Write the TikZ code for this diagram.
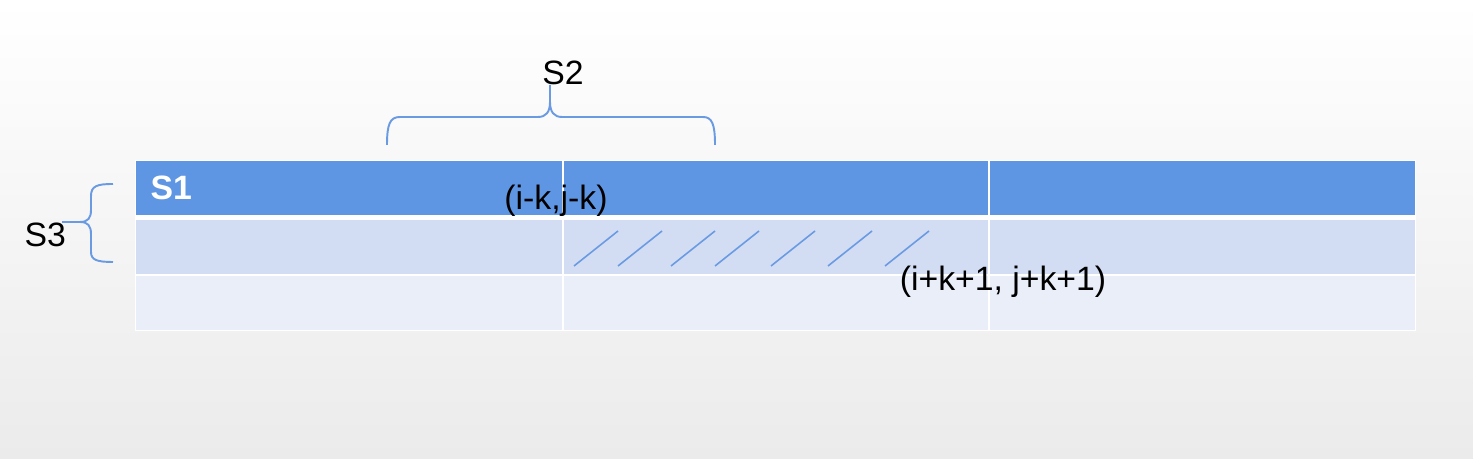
\documentclass[tikz,border=0pt]{standalone}
\usepackage{fontspec}
\setmainfont{Liberation Sans}
\definecolor{headblue}{HTML}{5F96E4}
\definecolor{rowblue}{HTML}{D2DDF3}
\definecolor{paleblue}{HTML}{E9EEF8}
\definecolor{braceblue}{HTML}{6A9AE2}
\definecolor{bggray}{HTML}{EBEBEB}
\begin{document}
\begin{tikzpicture}[x=0.01cm,y=-0.01cm,
  every node/.style={inner sep=0pt,font=\fontsize{9.6}{11.5}\selectfont},
  brace/.style={draw=braceblue,line width=0.55pt},
  hatch/.style={draw=braceblue,line width=0.45pt}]

\useasboundingbox (0,0) rectangle (1473,459);
\shade[top color=white,bottom color=bggray] (0,0) rectangle (1473,459);

% table
\fill[white] (135,160) rectangle (1416,331);
\foreach \xa/\xb in {136/562,564/988,990/1415} {
  \fill[headblue] (\xa,161) rectangle (\xb,215);
  \fill[rowblue] (\xa,220) rectangle (\xb,274);
  \fill[paleblue] (\xa,276) rectangle (\xb,330);
}
\foreach \hx in {574,618,671,715,771,828,885}
  \draw[hatch] (\hx,266) -- ++(44,-35);

\node[anchor=base west,text=white,font=\fontsize{9.6}{11.5}\selectfont\bfseries] (s1) at (150,200) {S1};
\node[anchor=base] (start) at (556,210) {(i-k,j-k)};
\node[anchor=base] (stop) at (1003,291) {(i+k+1, j+k+1)};

% S2
\node[anchor=base] (s2) at (563,85) {S2};
\coordinate (s2tip) at (550,85);
\draw[brace] (387,145) .. controls (387,124) and (390,117) .. (400,117) -- (538,117)
  .. controls (546,117) and (550,112) .. (550,102) -- (s2tip);
\draw[brace] (550,102) .. controls (550,112) and (554,117) .. (562,117) -- (703,117)
  .. controls (712,117) and (715,124) .. (715,145);

% S3
\node[anchor=base west] (s3) at (24,247) {S3};
\coordinate (s3tip) at (62,222);
\draw[brace] (113,184) .. controls (97,184) and (91,186) .. (91,196) -- (91,210)
  .. controls (91,218) and (88,222) .. (80,222) -- (s3tip);
\draw[brace] (80,222) .. controls (88,222) and (91,226) .. (91,234) -- (91,252)
  .. controls (91,260) and (97,262) .. (113,262);

\end{tikzpicture}
\end{document}
